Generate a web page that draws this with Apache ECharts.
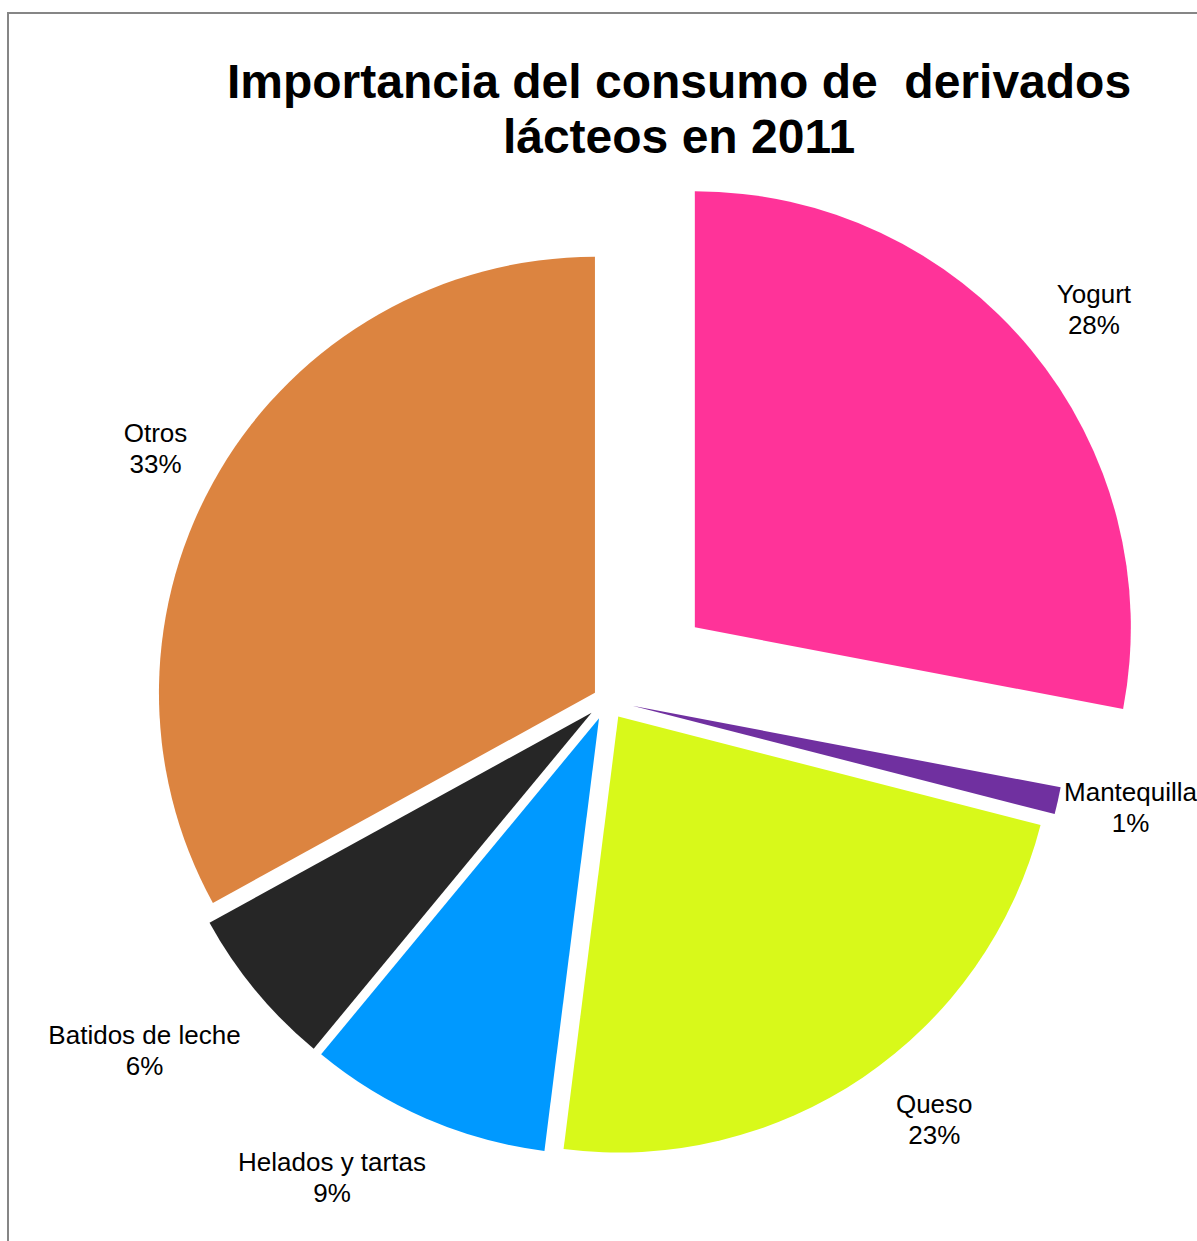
<!DOCTYPE html>
<html>
<head>
<meta charset="utf-8">
<script src="https://cdn.jsdelivr.net/npm/echarts@6/dist/echarts.min.js"></script>
<style>
  html, body { margin: 0; padding: 0; background: #ffffff; }
  #chart { width: 1197px; height: 1241px; }
</style>
</head>
<body>
<div id="chart"></div>
<script>
// Dairy-derivative consumption shares, clockwise from 12 o'clock
const categories = ['Yogurt', 'Mantequilla', 'Queso', 'Helados y tartas', 'Batidos de leche', 'Otros'];
const shares = [28, 1, 23, 9, 6, 33];
const sliceColors = ['#FF3399', '#7030A0', '#D8F91A', '#0099FF', '#262626', '#DC8440'];
const titleLines = ['Importancia del consumo de  derivados', 'lácteos en 2011'];

// Pie geometry (pixels)
const PIE_CENTER = [607, 700];
const PIE_RADIUS = 436;
const EXPLODE = [114, 26, 20, 20, 20, 14];   // outward pull of each slice
const LABEL_GAP = 26;                          // clearance between arc and label box
const LABEL_NUDGE = [[6, 8], [0, -12], [18, -10], [-9, 4], [5, 12], [-10, 22]];
const FONT = '"Liberation Sans", Arial, Helvetica, sans-serif';

const total = shares.reduce((a, b) => a + b, 0);

// mid-angle of slice i, radians clockwise from 12 o'clock
function midAngle(i) {
  let before = 0;
  for (let k = 0; k < i; k++) before += shares[k];
  return (before + shares[i] / 2) / total * 2 * Math.PI;
}
function direction(i) {
  const t = midAngle(i);
  return [Math.sin(t), -Math.cos(t)];
}
function sliceCenter(i) {
  const u = direction(i);
  return [PIE_CENTER[0] + EXPLODE[i] * u[0], PIE_CENTER[1] + EXPLODE[i] * u[1]];
}
const clamp = (v, lo, hi) => Math.max(lo, Math.min(hi, v));

const chart = echarts.init(document.getElementById('chart'), null, { renderer: 'svg' });

// Put the label box just outside the arc, with its nearest corner facing the slice
function placeLabel(i, p) {
  if (p.dataIndex !== i) return {};
  const u = direction(i);
  const c = sliceCenter(i);
  const reach = PIE_RADIUS + LABEL_GAP;
  const px = c[0] + reach * u[0];
  const py = c[1] + reach * u[1];
  const a = p.labelRect.width / 2;
  const b = p.labelRect.height / 2;
  let x = px + a * clamp(u[0] / 0.5, -1, 1) + LABEL_NUDGE[i][0];
  const y = py + b * clamp(u[1] / 0.5, -1, 1) + LABEL_NUDGE[i][1];
  x = clamp(x, a, chart.getWidth() - a);
  return { x: x, y: y, align: 'center', verticalAlign: 'middle' };
}

const series = categories.map((name, i) => ({
  type: 'pie',
  name: name,
  center: sliceCenter(i),
  radius: PIE_RADIUS,
  startAngle: 90,
  clockwise: true,
  animation: false,
  silent: true,
  avoidLabelOverlap: false,
  emphasis: { disabled: true },
  itemStyle: { borderWidth: 0 },
  labelLine: { show: false },
  label: { show: false },
  data: categories.map((n, k) => ({
    name: n,
    value: shares[k],
    itemStyle: k === i ? { color: sliceColors[k] } : { color: 'rgba(0,0,0,0)' },
    label: k === i ? {
      show: true,
      position: 'inside',
      formatter: '{b}\n{c}%',
      color: '#000000',
      fontFamily: FONT,
      fontSize: 26,
      lineHeight: 31
    } : { show: false }
  })),
  labelLayout: (p) => placeLabel(i, p)
}));

chart.setOption({
  backgroundColor: '#ffffff',
  animation: false,
  graphic: [
    {
      type: 'rect',
      silent: true,
      z: -10,
      shape: { x: 8, y: 13, width: 1300, height: 1300 },
      style: { fill: 'none', stroke: '#868686', lineWidth: 2 }
    },
    {
      type: 'text',
      x: 679,
      y: 54,
      silent: true,
      style: {
        text: titleLines.join('\n'),
        fill: '#000000',
        font: 'bold 48px ' + FONT,
        align: 'center',
        textAlign: 'center',
        verticalAlign: 'top',
        textVerticalAlign: 'top',
        lineHeight: 55
      }
    }
  ],
  series: series
});
</script>
</body>
</html>
